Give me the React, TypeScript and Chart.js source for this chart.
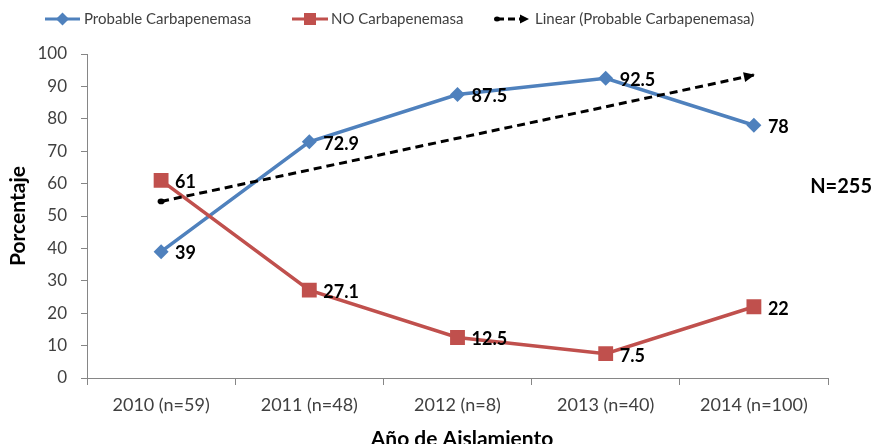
import React, { useEffect, useRef } from 'react';
import { Chart, registerables } from 'chart.js';

Chart.register(...registerables);

const categories = ['2010 (n=59)', '2011 (n=48)', '2012 (n=8)', '2013 (n=40)', '2014 (n=100)'];
const probableValues = [39, 72.9, 87.5, 92.5, 78];
const noValues = [61, 27.1, 12.5, 7.5, 22];
const trendValues = [54.5, 64.2, 74.0, 83.7, 93.5];
const seriesNames = ['Probable Carbapenemasa', 'NO Carbapenemasa', 'Linear (Probable Carbapenemasa)'];
const yTicks = [0, 10, 20, 30, 40, 50, 60, 70, 80, 90, 100];
const yTitle = 'Porcentaje';
const xTitle = 'Año de Aislamiento';
const totalNote = 'N=255';

const BLUE = '#4F81BD';
const RED = '#C0504D';
const FONT = 'Lato, "Open Sans", sans-serif';
const TEXT = '#404040';
const AXIS = '#868686';

function drawMarker(ctx: CanvasRenderingContext2D, kind: string, x: number, y: number, color: string, r: number) {
  ctx.save();
  ctx.fillStyle = color;
  ctx.beginPath();
  if (kind === 'diamond') {
    ctx.moveTo(x, y - r);
    ctx.lineTo(x + r, y);
    ctx.lineTo(x, y + r);
    ctx.lineTo(x - r, y);
    ctx.closePath();
  } else {
    ctx.rect(x - r, y - r, 2 * r, 2 * r);
  }
  ctx.fill();
  ctx.restore();
}

const overlayPlugin = {
  id: 'overlay',
  afterDatasetsDraw(chart: any) {
    const ctx: CanvasRenderingContext2D = chart.ctx;
    // trend arrow head and start dot
    const tm = chart.getDatasetMeta(2);
    const pts = tm.data;
    const a = pts[pts.length - 2];
    const b = pts[pts.length - 1];
    const ang = Math.atan2(b.y - a.y, b.x - a.x);
    ctx.save();
    ctx.fillStyle = '#000';
    ctx.translate(b.x, b.y);
    ctx.rotate(ang);
    ctx.beginPath();
    ctx.moveTo(1, 0);
    ctx.lineTo(-10, -5);
    ctx.lineTo(-10, 5);
    ctx.closePath();
    ctx.fill();
    ctx.restore();
    const s = pts[0];
    ctx.save();
    ctx.fillStyle = '#000';
    ctx.beginPath();
    ctx.ellipse(s.x, s.y, 3.5, 2.8, 0, 0, Math.PI * 2);
    ctx.fill();
    ctx.restore();

    // data labels
    ctx.save();
    ctx.font = 'bold 18px ' + FONT;
    ctx.fillStyle = '#000';
    ctx.textAlign = 'left';
    ctx.textBaseline = 'middle';
    [0, 1].forEach((di) => {
      const meta = chart.getDatasetMeta(di);
      const vals = chart.data.datasets[di].data;
      meta.data.forEach((p: any, i: number) => {
        ctx.fillText(String(vals[i]), p.x + 14, p.y + 2);
      });
    });
    ctx.restore();
  },
  afterDraw(chart: any) {
    const ctx: CanvasRenderingContext2D = chart.ctx;
    ctx.save();
    // legend
    const ly = 19;
    ctx.lineWidth = 3;
    ctx.strokeStyle = BLUE;
    ctx.beginPath();
    ctx.moveTo(45, ly);
    ctx.lineTo(80, ly);
    ctx.stroke();
    drawMarker(ctx, 'diamond', 62.5, ly, BLUE, 6.5);
    ctx.strokeStyle = RED;
    ctx.beginPath();
    ctx.moveTo(292, ly);
    ctx.lineTo(328, ly);
    ctx.stroke();
    drawMarker(ctx, 'square', 310, ly, RED, 6);
    ctx.strokeStyle = '#000';
    ctx.lineWidth = 3;
    ctx.setLineDash([7, 4]);
    ctx.beginPath();
    ctx.moveTo(497, ly);
    ctx.lineTo(522, ly);
    ctx.stroke();
    ctx.setLineDash([]);
    ctx.fillStyle = '#000';
    ctx.beginPath();
    ctx.ellipse(497, ly, 3, 2.5, 0, 0, Math.PI * 2);
    ctx.fill();
    ctx.beginPath();
    ctx.moveTo(529, ly);
    ctx.lineTo(520, ly - 4.5);
    ctx.lineTo(520, ly + 4.5);
    ctx.closePath();
    ctx.fill();

    ctx.font = '15px ' + FONT;
    ctx.fillStyle = TEXT;
    ctx.textBaseline = 'middle';
    ctx.textAlign = 'left';
    ctx.fillText(seriesNames[0], 84, ly);
    ctx.fillText(seriesNames[1], 331, ly);
    ctx.fillText(seriesNames[2], 535, ly);

    // axis titles
    ctx.font = 'bold 21px ' + FONT;
    ctx.fillStyle = '#000';
    ctx.textAlign = 'center';
    ctx.fillText(xTitle, 462, 439);
    ctx.save();
    ctx.translate(18, 216);
    ctx.rotate(-Math.PI / 2);
    ctx.fillText(yTitle, 0, 0);
    ctx.restore();

    // total note
    ctx.font = 'bold 20px ' + FONT;
    ctx.textAlign = 'right';
    ctx.fillText(totalNote, 872, 187);
    ctx.restore();
  },
};

export default function App() {
  const ref = useRef<HTMLCanvasElement | null>(null);
  useEffect(() => {
    document.body.style.margin = '0';
    const canvas = ref.current!;
    const chart = new Chart(canvas, {
      type: 'line',
      data: {
        labels: categories,
        datasets: [
          {
            label: seriesNames[0],
            data: probableValues,
            borderColor: BLUE,
            backgroundColor: BLUE,
            borderWidth: 3.5,
            pointStyle: 'rectRot',
            pointRadius: 7.5,
            pointBorderWidth: 0,
            tension: 0,
            order: 2,
          },
          {
            label: seriesNames[1],
            data: noValues,
            borderColor: RED,
            backgroundColor: RED,
            borderWidth: 3.5,
            pointStyle: 'rect',
            pointRadius: 10.5,
            pointBorderWidth: 0,
            tension: 0,
            order: 1,
          },
          {
            label: seriesNames[2],
            data: trendValues,
            borderColor: '#000',
            backgroundColor: '#000',
            borderWidth: 3,
            borderDash: [8, 5],
            pointRadius: 0,
            tension: 0,
            order: 0,
          },
        ],
      },
      options: {
        responsive: false,
        animation: false,
        layout: { padding: { top: 54, right: 46, bottom: 0, left: 0 } },
        plugins: { legend: { display: false }, tooltip: { enabled: false } },
        scales: {
          x: {
            type: 'category',
            offset: true,
            grid: { offset: true, drawOnChartArea: false, drawTicks: true, tickLength: 7, color: AXIS },
            border: { display: true, color: AXIS },
            ticks: { font: { family: FONT, size: 18 }, color: TEXT, padding: 9, maxRotation: 0, autoSkip: false },
            afterFit: (s: any) => { s.height = 66; },
          },
          y: {
            min: 0,
            max: 100,
            afterBuildTicks: (s: any) => { s.ticks = yTicks.map((v) => ({ value: v })); },
            grid: { drawOnChartArea: false, drawTicks: true, tickLength: 6, color: AXIS },
            border: { display: true, color: AXIS },
            ticks: { font: { family: FONT, size: 17 }, color: TEXT, padding: 14 },
            afterFit: (s: any) => { s.width = 87; },
          },
        },
      },
      plugins: [overlayPlugin],
    } as any);
    return () => chart.destroy();
  }, []);
  return <canvas ref={ref} width={874} height={444} style={{ display: 'block' }} />;
}
